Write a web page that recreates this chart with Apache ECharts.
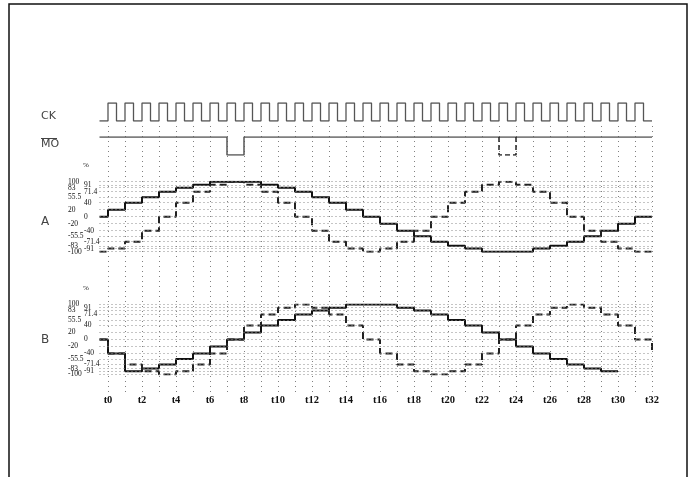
<!DOCTYPE html>
<html><head><meta charset="utf-8">
<script src="https://cdn.jsdelivr.net/npm/echarts@6/dist/echarts.min.js"></script>
<style>html,body{margin:0;padding:0;background:#fff}#c{width:693px;height:477px}</style>
</head><body><div id="c"></div>
<script>
// ---- data ----
const tickLabels = ['t0','t2','t4','t6','t8','t10','t12','t14','t16','t18','t20','t22','t24','t26','t28','t30','t32'];
const levelsLeft = [100, 83, 55.5, 20, -20, -55.5, -83, -100];
const levelsRight = [91, 71.4, 40, 0, -40, -71.4, -91];
// CK level per half clock period, first entry is the lead-in before t0
const ckLevels = [0,
  1,0, 1,0, 1,0, 1,0, 1,0, 1,0, 1,0, 1,0,
  1,0, 1,0, 1,0, 1,0, 1,0, 1,0, 1,0, 1,0,
  1,0, 1,0, 1,0, 1,0, 1,0, 1,0, 1,0, 1,0,
  1,0, 1,0, 1,0, 1,0, 1,0, 1,0, 1,0, 1,0];
// MO level per step (lead-in, t0..t31)
const moLevels = [1, 1,1,1,1,1,1,1,0, 1,1,1,1,1,1,1,1, 1,1,1,1,1,1,1,1, 1,1,1,1,1,1,1,1];
const moAltTimes = [23, 23, 24, 24];
const moAltLevels = [1, 0, 0, 1];
// phase currents (%) per step: lead-in, then t0..t31
const aSolid = [0, 20,40,55.5,71.4,83,91,100,100, 100,91,83,71.4,55.5,40,20,0,
  -20,-40,-55.5,-71.4,-83,-91,-100,-100, -100,-91,-83,-71.4,-55.5,-40,-20,0];
const aDashed = [-100, -91,-71.4,-40,0,40,71.4,91,100, 91,71.4,40,0,-40,-71.4,-91,-100,
  -91,-71.4,-40,0,40,71.4,91,100, 91,71.4,40,0,-40,-71.4,-91,-100];
const aDashedEnd = -91;
const bSolid = [0, -40,-91,-83,-71.4,-55.5,-40,-20,0, 20,40,55.5,71.4,83,91,100,100,
  100,91,83,71.4,55.5,40,20,0, -20,-40,-55.5,-71.4,-83,-91];
const bDashed = [0, -40,-71.4,-91,-100,-91,-71.4,-40,0, 40,71.4,91,100,91,71.4,40,0,
  -40,-71.4,-91,-100,-91,-71.4,-40,0, 40,71.4,91,100,91,71.4,40,0];
const bDashedEnd = -40;

// ---- helpers ----
function stepPts(vals, endVal) {
  const pts = [];
  vals.forEach((v, i) => {
    const k = i - 1;
    pts.push([Math.max(k, -0.5), v], [k + 1, v]);
  });
  if (endVal !== undefined) pts.push([vals.length - 1, endVal]);
  return pts;
}
function halfPts(vals) {
  const pts = [];
  vals.forEach((v, i) => {
    pts.push([-0.5 + i * 0.5, v], [i * 0.5, v]);
  });
  return pts;
}
// alternate entries so labels on one axis never collide
const odd = a => a.filter((_, i) => i % 2 === 0);
const even = a => a.filter((_, i) => i % 2 === 1);
const allLevels = levelsLeft.concat(levelsRight);
const rowLines = {
  silent: true, symbol: 'none', animation: false,
  label: { show: false },
  lineStyle: { type: [1, 3], color: '#8a8a8a', width: 1 },
  data: allLevels.map(v => ({ yAxis: v }))
};
const serif = 'Liberation Serif';
const lblStyle = { fontFamily: serif, fontSize: 7.5, color: '#111', align: 'left' };
function yAx(grid, vals, margin) {
  return {
    gridIndex: grid, type: 'value', min: -100, max: 100, position: 'left',
    axisLine: { show: false }, axisTick: { show: false }, splitLine: { show: false },
    axisLabel: Object.assign({ customValues: vals, margin: margin, showMinLabel: true, showMaxLabel: true, hideOverlap: false }, lblStyle)
  };
}
const solidStyle = { color: '#111', width: 2 };
const dashStyle = { color: '#222', width: 2, type: [7, 4] };
const base = { type: 'line', symbol: 'none', animation: false, silent: true };
const leftM = 31.5, rightM = 15.5;

const chart = echarts.init(document.getElementById('c'), null, { renderer: 'canvas' });
chart.setOption({
  backgroundColor: '#fff',
  animation: false,
  grid: [
    { left: 99.5, right: 41, top: 103, height: 18 },
    { left: 99.5, right: 41, top: 137, height: 18 },
    { left: 99.5, right: 41, top: 181.7, height: 70 },
    { left: 99.5, right: 41, top: 304.5, height: 70 },
    { left: 108, right: 41, top: 126, height: 267 }
  ],
  xAxis: [0, 1, 2, 3].map(i => ({ gridIndex: i, type: 'value', min: -0.5, max: 32, show: false })).concat([{
    gridIndex: 4, type: 'value', min: 0, max: 32, interval: 1,
    axisLine: { show: false }, axisTick: { show: false },
    splitLine: { show: true, lineStyle: { type: [1, 4], color: '#808080', width: 1 } },
    axisLabel: {
      margin: 2, fontFamily: serif, fontWeight: 'bold', fontSize: 10.5, color: '#111',
      showMinLabel: true, showMaxLabel: true,
      formatter: v => (v % 2 === 0 ? tickLabels[v / 2] : '')
    }
  }]),
  yAxis: [
    { gridIndex: 0, min: 0, max: 1, show: false },
    { gridIndex: 1, min: 0, max: 1, show: false },
    yAx(2, odd(levelsLeft), leftM), yAx(2, even(levelsLeft), leftM),
    yAx(2, odd(levelsRight), rightM), yAx(2, even(levelsRight), rightM),
    yAx(3, odd(levelsLeft), leftM), yAx(3, even(levelsLeft), leftM),
    yAx(3, odd(levelsRight), rightM), yAx(3, even(levelsRight), rightM),
    { gridIndex: 4, min: 0, max: 1, show: false }
  ],
  series: [
    Object.assign({}, base, { xAxisIndex: 0, yAxisIndex: 0, data: halfPts(ckLevels), lineStyle: { color: '#555', width: 1.3 } }),
    Object.assign({}, base, { xAxisIndex: 1, yAxisIndex: 1, data: stepPts(moLevels), lineStyle: { color: '#555', width: 1.5 } }),
    Object.assign({}, base, { xAxisIndex: 1, yAxisIndex: 1, data: moAltTimes.map((t, i) => [t, moAltLevels[i]]), lineStyle: { color: '#222', width: 1.5, type: [5, 3] } }),
    Object.assign({}, base, { xAxisIndex: 2, yAxisIndex: 2, data: stepPts(aSolid), lineStyle: solidStyle, markLine: rowLines, z: 3 }),
    Object.assign({}, base, { xAxisIndex: 2, yAxisIndex: 2, data: stepPts(aDashed, aDashedEnd), lineStyle: dashStyle, z: 3 }),
    Object.assign({}, base, { xAxisIndex: 3, yAxisIndex: 6, data: stepPts(bSolid), lineStyle: solidStyle, markLine: rowLines, z: 3 }),
    Object.assign({}, base, { xAxisIndex: 3, yAxisIndex: 6, data: stepPts(bDashed, bDashedEnd), lineStyle: dashStyle, z: 3 })
  ],
  graphic: [
    { type: 'rect', shape: { x: 9, y: 4, width: 678, height: 490 }, style: { fill: 'none', stroke: '#111', lineWidth: 1.5 }, silent: true },
    { type: 'text', style: { text: 'CK', x: 41, y: 116, fontSize: 11, fontFamily: 'DejaVu Sans', fill: '#444', verticalAlign: 'middle' } },
    { type: 'text', style: { text: 'MO', x: 41, y: 144, fontSize: 11, fontFamily: 'DejaVu Sans', fill: '#444', verticalAlign: 'middle' } },
    { type: 'line', shape: { x1: 41, y1: 138.5, x2: 57, y2: 138.5 }, style: { stroke: '#444', lineWidth: 1 } },
    { type: 'text', style: { text: 'A', x: 41, y: 222, fontSize: 12, fontFamily: 'DejaVu Sans', fill: '#444', verticalAlign: 'middle' } },
    { type: 'text', style: { text: 'B', x: 41, y: 340, fontSize: 12, fontFamily: 'DejaVu Sans', fill: '#444', verticalAlign: 'middle' } },
    { type: 'text', style: { text: '%', x: 83, y: 165, fontSize: 7, fontFamily: serif, fill: '#111', verticalAlign: 'middle' } },
    { type: 'text', style: { text: '%', x: 83, y: 288, fontSize: 7, fontFamily: serif, fill: '#111', verticalAlign: 'middle' } }
  ]
});
</script></body></html>
